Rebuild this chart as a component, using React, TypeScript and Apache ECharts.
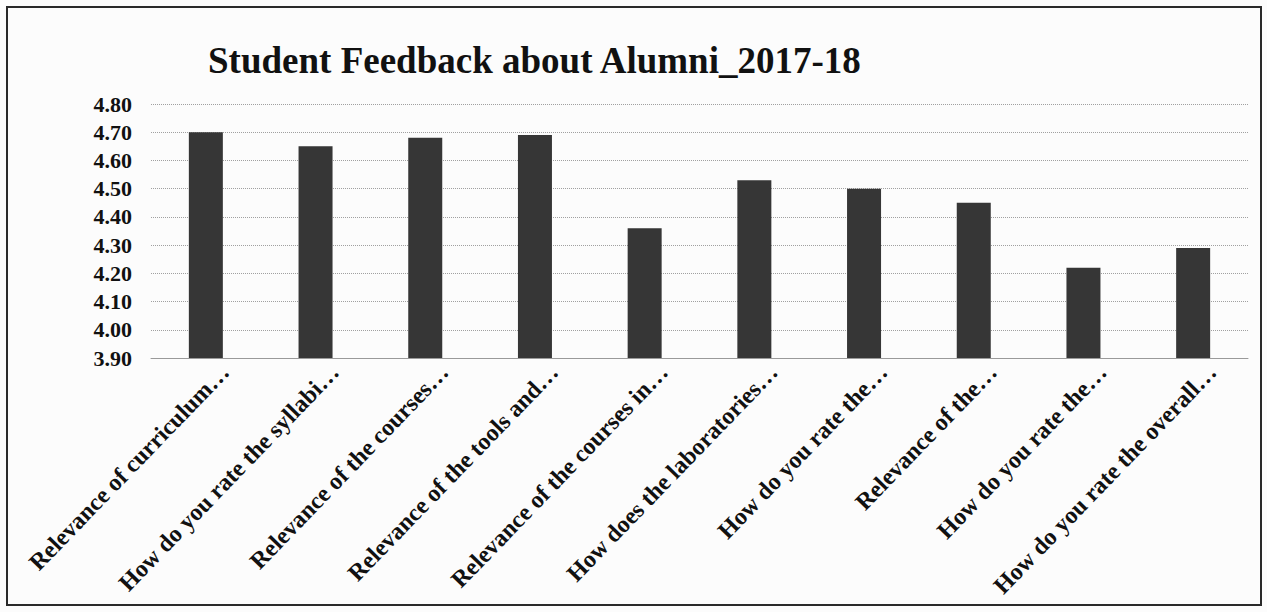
import React, { useEffect, useRef } from "react";
import * as echarts from "echarts";

const categories = [
  "Relevance of curriculum…",
  "How do you rate the syllabi…",
  "Relevance of the courses…",
  "Relevance of the tools and…",
  "Relevance of the courses in…",
  "How does the laboratories…",
  "How do you rate the…",
  "Relevance of the…",
  "How do you rate the…",
  "How do you rate the overall…",
];
const scores = [4.7, 4.65, 4.68, 4.69, 4.36, 4.53, 4.5, 4.45, 4.22, 4.29];
const yMin = 3.9;
const yMax = 4.8;
const yStep = 0.1;
const titleText = "Student Feedback about Alumni_2017-18";

export default function App() {
  const ref = useRef<HTMLDivElement>(null);
  useEffect(() => {
    if (!ref.current) return;
    const chart = echarts.init(ref.current, undefined, { renderer: "svg" });
    const serif = "'Liberation Serif', 'Times New Roman', serif";
    chart.setOption({
      animation: false,
      backgroundColor: "#fcfcfc",
      title: {
        text: titleText,
        left: 203,
        top: 37,
        textStyle: { fontFamily: serif, fontWeight: "bold", fontSize: 37, color: "#111" },
      },
      graphic: [
        {
          type: "rect",
          shape: { x: 7, y: 7, width: 1254, height: 598 },
          style: { fill: "none", stroke: "#2a2a2a", lineWidth: 2 },
          silent: true,
        },
      ],
      grid: [
        { left: 151, right: 19, top: 104, bottom: 254, containLabel: false },
        { left: 170, right: 0, top: 104, bottom: 254, containLabel: false },
      ],
      xAxis: [
        {
          type: "category",
          gridIndex: 0,
          data: categories,
          axisLine: { show: true, lineStyle: { color: "#9a9a9a", width: 1 } },
          axisTick: { show: false },
          axisLabel: { show: false },
        },
        {
          type: "category",
          gridIndex: 1,
          data: categories,
          axisLine: { show: false },
          axisTick: { show: false },
          axisLabel: {
            interval: 0,
            rotate: 46,
            margin: 10,
            fontFamily: serif,
            fontWeight: "bold",
            fontSize: 24,
            color: "#111",
          },
        },
      ],
      yAxis: [
        {
          type: "value",
          gridIndex: 0,
          min: yMin,
          max: yMax,
          interval: yStep,
          axisLine: { show: false },
          axisTick: { show: false },
          splitLine: { show: true, lineStyle: { color: "#a0a0a0", type: "dotted", width: 1 } },
          axisLabel: {
            margin: 19,
            fontFamily: serif,
            fontWeight: "bold",
            fontSize: 22,
            color: "#111",
            formatter: (v: number) => v.toFixed(2),
          },
        },
        {
          type: "value",
          gridIndex: 1,
          min: yMin,
          max: yMax,
          interval: yStep,
          show: false,
        },
      ],
      series: [
        {
          type: "bar",
          xAxisIndex: 0,
          yAxisIndex: 0,
          data: scores,
          barWidth: 34,
          itemStyle: { color: "#363636" },
        },
      ],
    });
    return () => chart.dispose();
  }, []);
  return (
    <div
      ref={ref}
      style={{ position: "fixed", left: 0, top: 0, width: 1267, height: 612 }}
    />
  );
}
